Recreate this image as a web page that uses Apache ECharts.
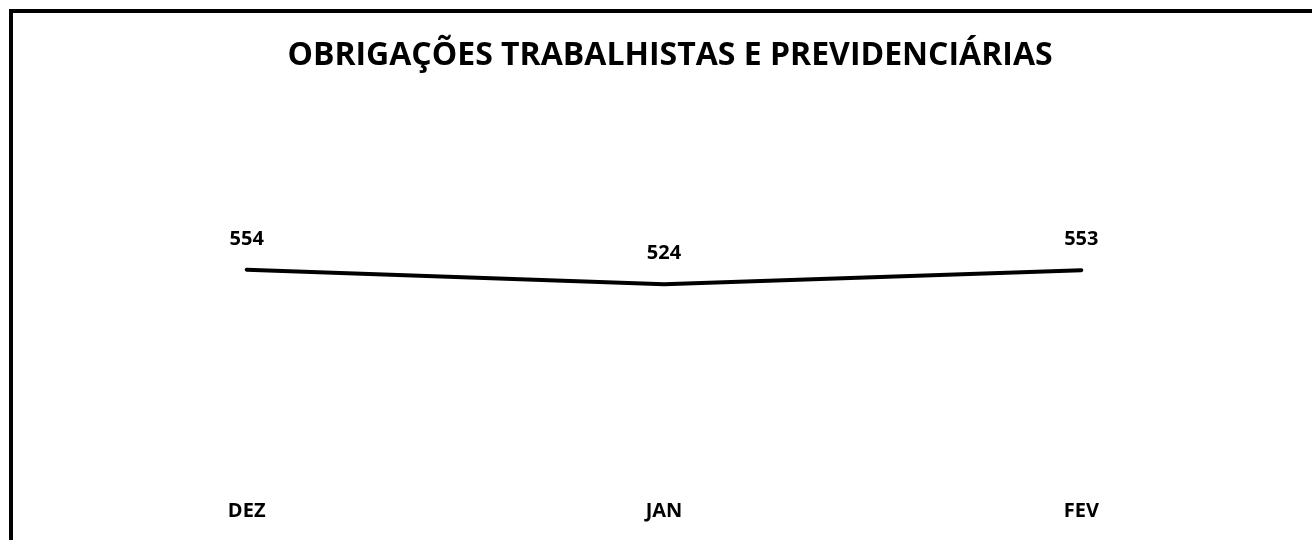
<!DOCTYPE html>
<html>
<head>
<meta charset="utf-8">
<script src="https://cdn.jsdelivr.net/npm/echarts@6/dist/echarts.min.js"></script>
<style>
  html, body { margin: 0; padding: 0; background: #fff; }
  #chart { width: 1312px; height: 540px; }
</style>
</head>
<body>
<div id="chart"></div>
<script>
const months = ['DEZ', 'JAN', 'FEV']
const values = [554, 524, 553]
const titleText = 'OBRIGAÇÕES TRABALHISTAS E PREVIDENCIÁRIAS'

let myChart = echarts.init(document.getElementById('chart'))
myChart.setOption({
  animation: false,
  textStyle: {
    fontFamily: 'Open Sans'
  },
  title: {
    text: titleText,
    left: 665,
    top: 35,
    textAlign: 'center',
    textStyle: {
      fontSize: 32,
      fontWeight: 'bold',
      color: '#000'
    }
  },
  // 外框
  graphic: [{
    type: 'rect',
    shape: { x: 11, y: 11, width: 1400, height: 600 },
    style: { fill: 'none', stroke: '#000', lineWidth: 4 },
    silent: true
  }],
  grid: {
    left: 38,
    right: 22,
    top: 52,
    bottom: -12
  },
  xAxis: {
    type: 'category',
    data: months,
    boundaryGap: true,
    offset: -47,
    axisLine: { show: false },
    axisTick: { show: false },
    axisLabel: {
      margin: 8,
      fontSize: 20,
      fontWeight: 'bold',
      color: '#000'
    }
  },
  yAxis: {
    type: 'value',
    min: 0,
    max: 1000,
    show: false,
    splitLine: { show: false }
  },
  series: [{
    type: 'line',
    data: values,
    symbol: 'circle',
    symbolSize: 1,
    itemStyle: { color: '#000' },
    lineStyle: { color: '#000', width: 4, cap: 'round', join: 'round' },
    label: {
      show: true,
      position: 'top',
      distance: 20,
      fontSize: 20,
      fontWeight: 'bold',
      color: '#000'
    }
  }]
})
</script>
</body>
</html>
